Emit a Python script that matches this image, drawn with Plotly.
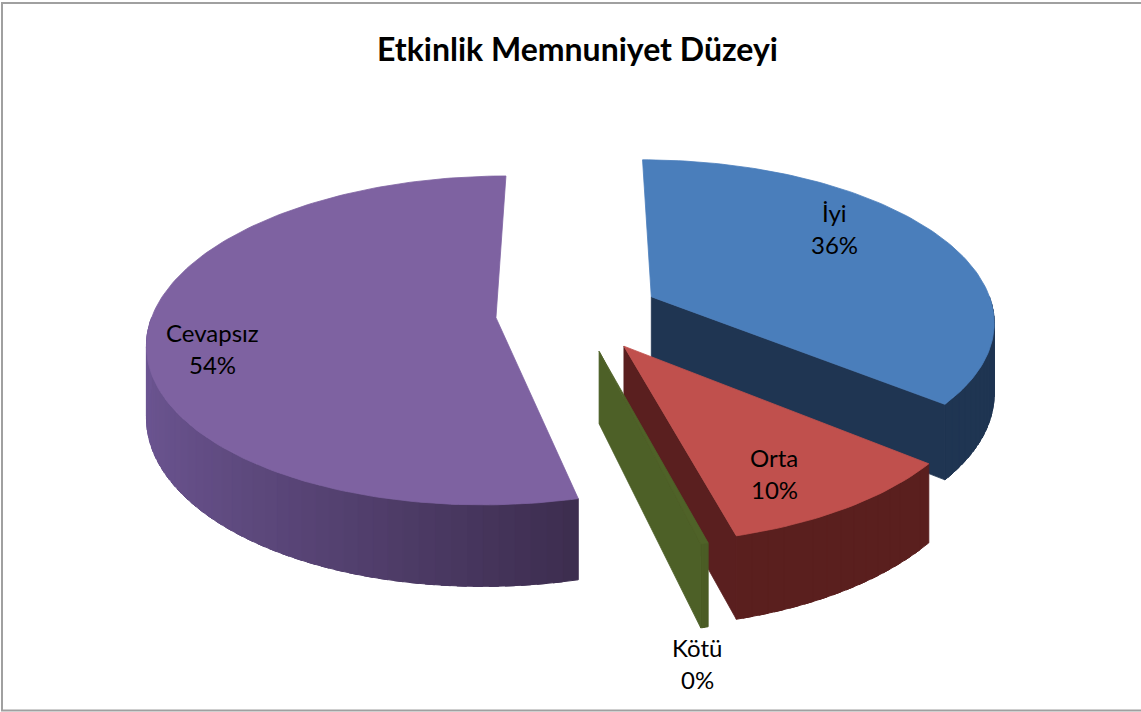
import numpy as np
import plotly.graph_objects as go

# ---------------- data ----------------
categories = ["İyi", "Orta", "Kötü", "Cevapsız"]
values = [36, 10, 0.3, 54]          # Kötü is a thin sliver that rounds to 0%
title_text = "Etkinlik Memnuniyet Düzeyi"

# ---------------- style ----------------
top_colors = ["#4A7EBB", "#C0504D", "#4F6228", "#7E62A1"]
wall_light = ["#2A4466", "#6E2827", "#55692B", "#6C5592"]
wall_dark = ["#1F3552", "#5A1F1E", "#4B5C25", "#3A2B4B"]
face_colors = ["#1F3552", "#5A1F1F", "#4D6027", "#8468A8"]
label_xy = {"İyi": (834, 212), "Orta": (774, 457), "Kötü": (697, 647), "Cevapsız": (212, 332)}
LINE_GAP = 32

W, Hpx = 1141, 712
CX, CY, A, B, K, DEPTH, EXPLODE = 578, 313, 343, 160, 0.138, 70, 0.24


def proj(pu, pw, down=0.0):
    p = 1.0 / (1.0 + K * pw)
    return CX + A * pu * p, CY - B * pw * p + DEPTH * p * down


def hex2rgb(h):
    h = h.lstrip("#")
    return np.array([int(h[i:i + 2], 16) for i in (0, 2, 4)], float)


def mix(c1, c2, t):
    c = hex2rgb(c1) * (1 - t) + hex2rgb(c2) * t
    return "rgb(%d,%d,%d)" % tuple(np.round(c).astype(int))


fig = go.Figure()


def poly(pts, color, lw=0.8):
    xs = [p[0] for p in pts]
    ys = [p[1] for p in pts]
    fig.add_trace(go.Scatter(x=xs + [xs[0]], y=ys + [ys[0]], mode="lines",
                             fill="toself", fillcolor=color,
                             line=dict(width=lw, color=color),
                             hoverinfo="skip", showlegend=False))


total = sum(values)
fracs = [v / total for v in values]
starts = np.concatenate([[0], np.cumsum(fracs)[:-1]]) * 2 * np.pi
ends = np.cumsum(fracs) * 2 * np.pi

order = [0, 3, 1, 2]   # back to front
for i in order:
    ts, te = starts[i], ends[i]
    phi = (ts + te) / 2
    eu, ew = EXPLODE * np.sin(phi), EXPLODE * np.cos(phi)

    # outer wall (front half only), shaded strips
    w0, w1 = max(ts, np.pi / 2), min(te, 3 * np.pi / 2)
    if w1 > w0:
        nseg = max(2, int((w1 - w0) / 0.04))
        edges = np.linspace(w0, w1, nseg + 1)
        step = edges[1] - edges[0]
        for k, (a0, a1) in enumerate(zip(edges[:-1], edges[1:])):
            hi = a1 + (0.6 * step if k < nseg - 1 else 0)
            th = np.linspace(a0, hi, 5)
            pts = [proj(eu + np.sin(t), ew + np.cos(t)) for t in th] + \
                  [proj(eu + np.sin(t), ew + np.cos(t), 1) for t in th[::-1]]
            tm = (a0 + a1) / 2
            t = np.clip((np.sin(tm) + 1) / 1.3, 0, 1)
            poly(pts, mix(wall_light[i], wall_dark[i], t), lw=1)

    # visible radial cut faces
    for ang, vis in ((te, np.sin(te) > 1e-6), (ts, np.sin(ts) < -1e-6)):
        if vis:
            pts = [proj(eu, ew), proj(eu + np.sin(ang), ew + np.cos(ang)),
                   proj(eu + np.sin(ang), ew + np.cos(ang), 1), proj(eu, ew, 1)]
            poly(pts, face_colors[i])

    # top face
    th = np.linspace(ts, te, max(3, int((te - ts) / 0.02)))
    pts = [proj(eu, ew)] + [proj(eu + np.sin(t), ew + np.cos(t)) for t in th]
    poly(pts, top_colors[i])

# labels
for cat, v in zip(categories, values):
    lx, ly = label_xy[cat]
    fig.add_annotation(x=lx, y=ly, xref="x", yref="y", showarrow=False,
                       text=cat, yanchor="middle",
                       font=dict(family="Lato", size=24, color="#000000"))
    fig.add_annotation(x=lx, y=ly + LINE_GAP, xref="x", yref="y", showarrow=False,
                       text=f"{round(v / total * 100)}%", yanchor="middle",
                       font=dict(family="Lato", size=24, color="#000000"))

fig.add_annotation(x=577, y=48, xref="x", yref="y", showarrow=False,
                   text=f"<b>{title_text}</b>", yanchor="middle",
                   font=dict(family="Lato", size=32, color="#000000"))

fig.add_shape(type="rect", xref="x", yref="y", x0=2, y0=3, x1=1150, y1=710.5,
              line=dict(color="#A0A0A0", width=2), fillcolor="rgba(0,0,0,0)",
              layer="above")

fig.update_layout(width=W, height=Hpx, margin=dict(l=0, r=0, t=0, b=0),
                  paper_bgcolor="white", plot_bgcolor="white",
                  xaxis=dict(range=[0, W], visible=False, fixedrange=True),
                  yaxis=dict(range=[Hpx, 0], visible=False, fixedrange=True),
                  showlegend=False)

fig.write_html("out.html", config={"displayModeBar": False},
               post_script="document.body.style.margin='0';document.body.style.overflow='hidden';")
